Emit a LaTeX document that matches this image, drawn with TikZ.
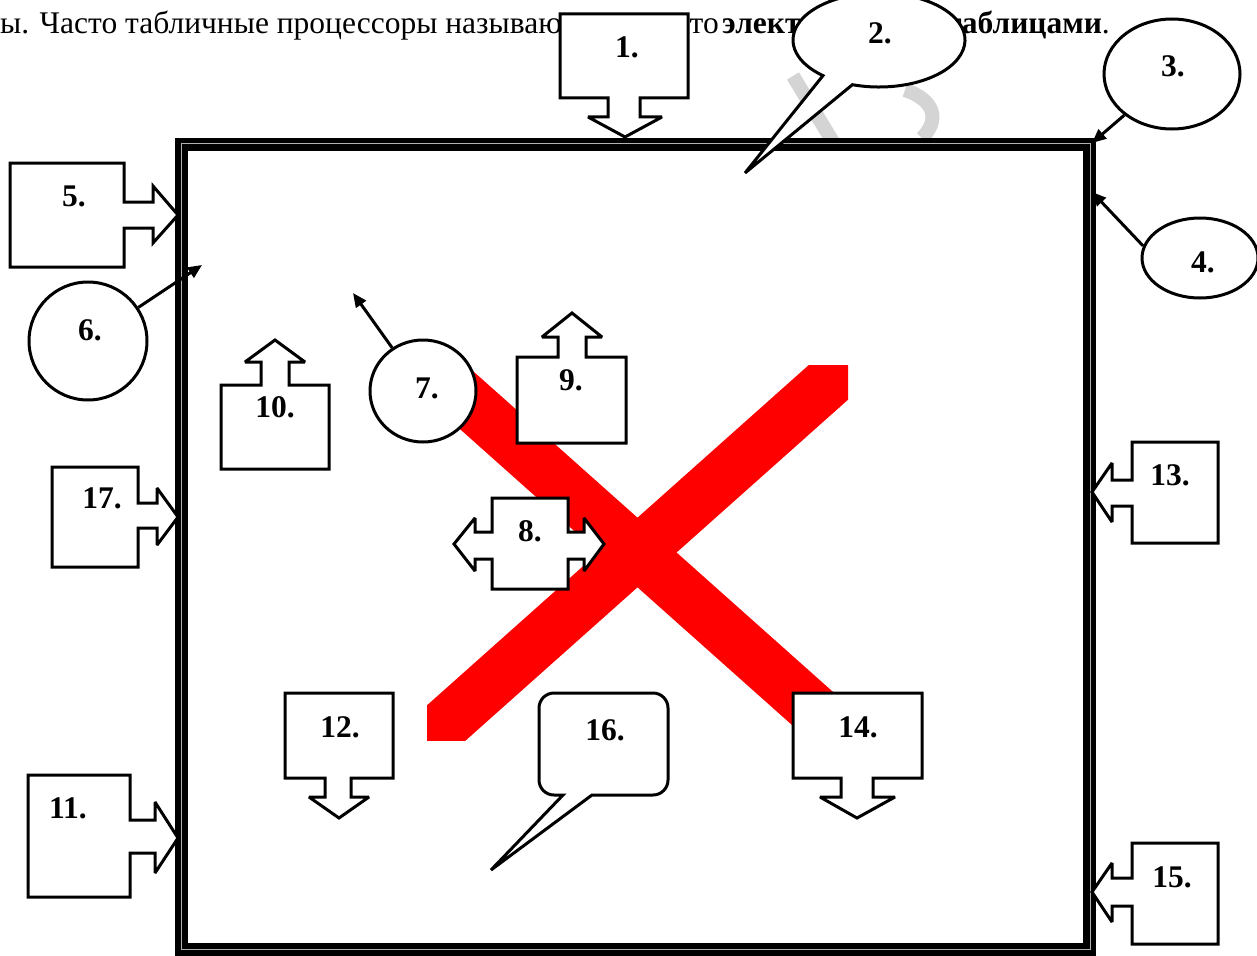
\documentclass[tikz,border=0pt]{standalone}
\usepackage{fontspec}
\setmainfont{Liberation Serif}
\usetikzlibrary{shapes.geometric,arrows.meta,calc}
\begin{document}
\begin{tikzpicture}[x=1pt,y=-1pt,
  shp/.style={draw=black,fill=white,line width=3pt,line join=miter,miter limit=3},
  lbl/.style={font=\fontsize{31.5}{36}\selectfont\bfseries,inner sep=0pt},
  txt/.style={font=\fontsize{31.5}{36}\selectfont,inner sep=0pt},
  ell/.style={ellipse,draw=black,fill=white,line width=3pt,inner sep=0pt},
  ptr/.style={line width=3pt,-{Triangle[length=14pt,width=12pt]}},
  wmark/.style={draw=black!17,line width=14pt}
]
\useasboundingbox (0,0) rectangle (1257,955);
\fill[white] (0,0) rectangle (1257,955);

% text line (visible parts)
\node[txt,anchor=base west] (t1) at (0,34) {ы. Часто табличные процессоры называю};
\node[txt,anchor=base east] (t2) at (719,34) {то};
\node[txt,anchor=base west,font=\fontsize{31.5}{36}\selectfont\bfseries] (t3) at (722,34) {электр};
\node[txt,anchor=base east] (t4) at (1110,34) {\textbf{таблицами}.};

% watermark
\draw[wmark] (793,76) -- (833,142);
\draw[wmark] (905,90) .. controls (935,100) and (940,120) .. (922,138);

% frame
\draw[line width=13pt] (181,144) rectangle (1089,949);
\draw[black!30,line width=0.9pt] (181,143) rectangle (1090,949);

% red X
\begin{scope}
\clip (427,365) rectangle (848,740);
\draw[red,line width=52pt] (380,323) -- (895,782);
\draw[red,line width=52pt] (380,782) -- (895,323);
\end{scope}

% 1 down arrow callout
\draw[shp] (560,14) -- (688,14) -- (688,98) -- (640,98) -- (640,117) -- (662,117) -- (625,137) -- (588,117) -- (608,117) -- (608,98) -- (560,98) -- cycle;
\node[lbl] (l1) at (627,47) {1.};

% 2 oval callout
\coordinate (c2) at (879,40);
\draw[shp] ($(c2)+(108:86 and 47)$) arc[start angle=108,end angle=-229.3,x radius=86,y radius=47] -- (745,173) -- cycle;
\node[lbl] (l2) at (880,33) {2.};

% 3
\node[ell,minimum width=136pt,minimum height=110pt] (e3) at (1172,74) {};
\node[lbl] (l3) at (1173,66) {3.};
\coordinate (a3) at (1092,143);
\draw[ptr] (e3) -- (a3);

% 4
\node[ell,minimum width=116pt,minimum height=80pt] (e4) at (1200,258) {};
\node[lbl] (l4) at (1203,262) {4.};
\coordinate (a4) at (1092,192);
\draw[ptr] (e4.168) -- (a4);

% 5 right arrow callout
\draw[shp] (10,163) -- (124,163) -- (124,202) -- (153,202) -- (153,186) -- (178,215) -- (153,243) -- (153,228) -- (124,228) -- (124,267) -- (10,267) -- cycle;
\node[lbl] (l5) at (74,196) {5.};

% 6
\node[ell,minimum width=118pt,minimum height=118pt] (e6) at (88,341) {};
\node[lbl] (l6) at (90,330) {6.};
\coordinate (a6) at (202,265);
\draw[ptr] (e6) -- (a6);

% 7
\node[ell,minimum width=106pt,minimum height=102pt] (e7) at (423,391) {};
\node[lbl] (l7) at (427,388) {7.};
\coordinate (a7) at (353,293);
\draw[ptr] (e7) -- (a7);

% 9 up arrow callout
\draw[shp] (517,443) -- (626,443) -- (626,357) -- (586,357) -- (586,337) -- (602,337) -- (572,313) -- (542,337) -- (558,337) -- (558,357) -- (517,357) -- cycle;
\node[lbl] (l9) at (571,380) {9.};

% 10 up arrow callout
\draw[shp] (221,469) -- (329,469) -- (329,385) -- (289,385) -- (289,362) -- (305,362) -- (275,340) -- (245,362) -- (261,362) -- (261,385) -- (221,385) -- cycle;
\node[lbl] (l10) at (275,407) {10.};

% 8 left-right arrow callout
\draw[shp] (492,498) -- (568,498) -- (568,532) -- (584,532) -- (584,518) -- (604,544) -- (584,571) -- (584,559) -- (568,559) -- (568,589) -- (492,589) -- (492,559) -- (475,559) -- (475,571) -- (454,544) -- (475,518) -- (475,532) -- (492,532) -- cycle;
\node[lbl] (l8) at (530,531) {8.};

% 17
\draw[shp] (52,467) -- (138,467) -- (138,503) -- (157,503) -- (157,488) -- (178,517) -- (157,545) -- (157,528) -- (138,528) -- (138,567) -- (52,567) -- cycle;
\node[lbl] (l17) at (102,498) {17.};

% 11
\draw[shp] (28,775) -- (130,775) -- (130,820) -- (155,820) -- (155,802) -- (178,838) -- (155,873) -- (155,853) -- (130,853) -- (130,897) -- (28,897) -- cycle;
\node[lbl] (l11) at (68,808) {11.};

% 13
\draw[shp] (1218,442) -- (1132,442) -- (1132,480) -- (1112,480) -- (1112,463) -- (1092,492) -- (1112,522) -- (1112,506) -- (1132,506) -- (1132,543) -- (1218,543) -- cycle;
\node[lbl] (l13) at (1170,475) {13.};

% 15
\draw[shp] (1218,843) -- (1132,843) -- (1132,878) -- (1112,878) -- (1112,863) -- (1092,892) -- (1112,922) -- (1112,906) -- (1132,906) -- (1132,944) -- (1218,944) -- cycle;
\node[lbl] (l15) at (1172,877) {15.};

% 12
\draw[shp] (285,693) -- (393,693) -- (393,778) -- (351,778) -- (351,797) -- (369,797) -- (339,818) -- (309,797) -- (325,797) -- (325,778) -- (285,778) -- cycle;
\node[lbl] (l12) at (340,727) {12.};

% 14
\draw[shp] (793,693) -- (922,693) -- (922,778) -- (873,778) -- (873,797) -- (895,797) -- (857,818) -- (820,797) -- (841,797) -- (841,778) -- (793,778) -- cycle;
\node[lbl] (l14) at (858,727) {14.};

% 16 rounded callout
\draw[shp] (563,795) -- (491,870) -- (592,795) [rounded corners=15pt] -- (668,795) -- (668,693) -- (539,693) -- (539,795) [sharp corners] -- cycle;
\node[lbl] (l16) at (605,730) {16.};

\end{tikzpicture}
\end{document}
